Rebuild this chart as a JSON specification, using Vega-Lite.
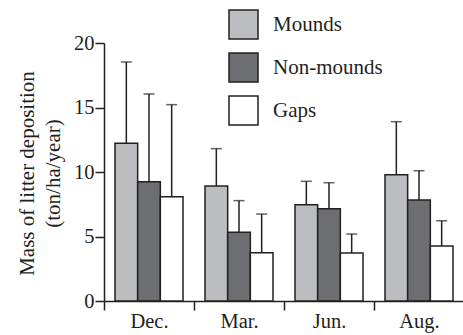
{
  "$schema": "https://vega.github.io/schema/vega-lite/v6.json",
  "width": 360,
  "height": 258,
  "autosize": {"type": "none"},
  "padding": {"left": 104, "top": 43, "right": 0, "bottom": 34},
  "background": "white",
  "config": {
    "view": {"stroke": null},
    "font": "Liberation Serif, serif",
    "legend": {"labelFont": "Liberation Serif, serif"},
    "axis": {"domainColor": "#231f20", "tickColor": "#231f20", "domainWidth": 1.5, "tickWidth": 1.5, "labelColor": "#231f20", "titleColor": "#231f20", "labelFontSize": 20.5, "titleFontSize": 21, "titleFontWeight": "normal", "grid": false, "labelFont": "Liberation Serif, serif", "titleFont": "Liberation Serif, serif"}
  },
  "data": {
    "values": [
      {"month": "Dec.", "type": "Mounds", "value": 12.22, "upper": 18.53},
      {"month": "Dec.", "type": "Non-mounds", "value": 9.25, "upper": 16.05},
      {"month": "Dec.", "type": "Gaps", "value": 8.09, "upper": 15.22},
      {"month": "Mar.", "type": "Mounds", "value": 8.91, "upper": 11.81},
      {"month": "Mar.", "type": "Non-mounds", "value": 5.32, "upper": 7.78},
      {"month": "Mar.", "type": "Gaps", "value": 3.75, "upper": 6.74},
      {"month": "Jun.", "type": "Mounds", "value": 7.47, "upper": 9.28},
      {"month": "Jun.", "type": "Non-mounds", "value": 7.16, "upper": 9.17},
      {"month": "Jun.", "type": "Gaps", "value": 3.72, "upper": 5.19},
      {"month": "Aug.", "type": "Mounds", "value": 9.79, "upper": 13.9},
      {"month": "Aug.", "type": "Non-mounds", "value": 7.83, "upper": 10.1},
      {"month": "Aug.", "type": "Gaps", "value": 4.26, "upper": 6.22}
    ]
  },
  "encoding": {
    "x": {
      "field": "month", "type": "nominal", "sort": ["Dec.", "Mar.", "Jun.", "Aug."],
      "scale": {"paddingInner": 0, "paddingOuter": 0},
      "axis": {"title": null, "labelAngle": 0, "tickBand": "extent", "tickSize": 9, "labelPadding": 1, "domainColor": "#231f20"}
    },
    "xOffset": {
      "field": "type", "type": "nominal", "sort": ["Mounds", "Non-mounds", "Gaps"],
      "scale": {"paddingInner": 0, "paddingOuter": 0.485}
    }
  },
  "layer": [
    {
      "mark": {"type": "rule", "color": "#231f20", "strokeWidth": 1.5},
      "encoding": {
        "y": {"field": "value", "type": "quantitative"},
        "y2": {"field": "upper"}
      }
    },
    {
      "mark": {"type": "tick", "color": "#231f20", "thickness": 1.5, "size": 11, "orient": "horizontal"},
      "encoding": {
        "y": {"field": "upper", "type": "quantitative"}
      }
    },
    {
      "mark": {"type": "bar", "stroke": "#231f20", "strokeWidth": 1.5},
      "encoding": {
        "y": {
          "field": "value", "type": "quantitative",
          "scale": {"domain": [0, 20], "nice": false},
          "axis": {"values": [0, 5, 10, 15, 20], "tickSize": 9, "labelPadding": 1, "title": ["Mass of litter deposition", "(ton/ha/year)"], "titleAngle": -90, "titleX": -88, "titleY": 130, "titleBaseline": "top", "titleAlign": "center", "titleLineHeight": 26}
        },
        "color": {
          "field": "type", "type": "nominal", "sort": ["Mounds", "Non-mounds", "Gaps"],
          "scale": {"domain": ["Mounds", "Non-mounds", "Gaps"], "range": ["#bcbdc0", "#6d6e71", "#ffffff"]},
          "legend": {"title": null, "orient": "none", "legendX": 124, "legendY": -34, "symbolType": "square", "symbolSize": 841, "symbolStrokeColor": "#231f20", "symbolStrokeWidth": 1.5, "symbolOpacity": 1, "labelFontSize": 21, "labelFont": "Liberation Serif, serif", "labelColor": "#231f20", "labelOffset": 14, "rowPadding": 8, "padding": 0}
        }
      }
    }
  ]
}
